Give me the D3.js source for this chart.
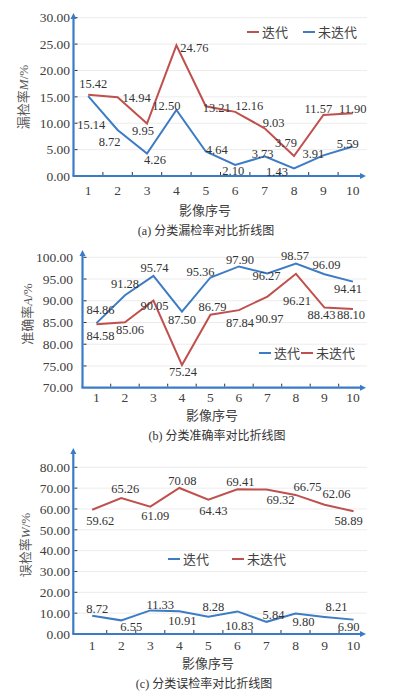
<!DOCTYPE html>
<html>
<head>
<meta charset="utf-8">
<script src="https://cdn.jsdelivr.net/npm/d3@7"></script>
<style>
  body { margin: 0; background: #fff; }
  svg text { font-family: "Liberation Serif", "Noto Sans CJK SC", serif; }
</style>
</head>
<body>
<svg id="chart" width="393" height="696"></svg>
<script>
// image numbers on the x axis
var images = ['1', '2', '3', '4', '5', '6', '7', '8', '9', '10'];

// (a) miss rate M/%
var missIter = [15.42, 14.94, 9.95, 24.76, 13.21, 12.16, 9.03, 3.79, 11.57, 11.90];
var missNoIter = [15.14, 8.72, 4.26, 12.50, 4.64, 2.10, 3.73, 1.43, 3.91, 5.59];
var missTicks = [0, 5, 10, 15, 20, 25, 30];

// (b) accuracy A/%
var accIter = [84.86, 91.28, 95.74, 87.50, 95.36, 97.90, 96.27, 98.57, 96.09, 94.41];
var accNoIter = [84.58, 85.06, 90.05, 75.24, 86.79, 87.84, 90.97, 96.21, 88.43, 88.10];
var accTicks = [70, 75, 80, 85, 90, 95, 100];

// (c) false detection rate W/%
var errIter = [8.72, 6.55, 11.33, 10.91, 8.28, 10.83, 5.84, 9.80, 8.21, 6.90];
var errNoIter = [59.62, 65.26, 61.09, 70.08, 64.43, 69.41, 69.32, 66.75, 62.06, 58.89];
var errTicks = [0, 10, 20, 30, 40, 50, 60, 70, 80];

// label nudges [dx, dy] per point, like the excel auto placement
var missIterOff = [[5,-11],[19,0],[-4,7],[18,2],[11,1],[14,-6],[9,-6],[-8,-13],[-5,-6],[0,-5]];
var missNoIterOff = [[3,29],[-8,12],[8,6],[-10,-4],[11,-2],[-2,6],[-2,-3],[-17,3],[-10,-2],[-5,-3]];
var accIterOff = [[4,-13],[0,-12],[1,-8],[0,8],[-10,-6],[1,-7],[-1,2],[-1,-8],[2,-10],[-5,7]];
var accNoIterOff = [[4,11],[5,7],[1,5],[1,7],[2,-8],[1,12],[2,22],[1,27],[-3,7],[-2,6]];
var errIterOff = [[5,-7],[10,6],[10,-6],[3,9],[5,-10],[2,14],[7,-7],[8,8],[12,-10],[-5,7]];
var errNoIterOff = [[8,11],[4,-9],[5,9],[3,-7],[5,11],[3,-8],[14,10],[12,-8],[12,-11],[-5,9]];

var red = '#c0504d',
    blue = '#3d7cc4',
    axisBlue = '#3a7bc8';

var svg = d3.select('#chart');

function lineChart(opt) {

    var g = svg.append('g');

    var x = d3.scaleBand()
        .domain(images)
        .range(opt.xRange);

    var y = d3.scaleLinear()
        .domain(opt.yDomain)
        .range(opt.yRange);

    // gridlines
    g.selectAll('.grid')
        .data(opt.ticks.slice(1))
        .enter().append('line')
        .attr('x1', opt.axisX)
        .attr('x2', 367)
        .attr('y1', function(d) { return y(d); })
        .attr('y2', function(d) { return y(d); })
        .attr('stroke', '#ececec')
        .attr('stroke-width', 1);

    // y tick labels + small ticks
    g.selectAll('.ytl')
        .data(opt.ticks)
        .enter().append('text')
        .attr('x', opt.labelX)
        .attr('y', function(d) { return y(d); })
        .attr('dy', '0.35em')
        .attr('text-anchor', 'end')
        .attr('font-size', 13.5)
        .attr('fill', '#404040')
        .text(function(d) { return d3.format('.2f')(d); });

    g.selectAll('.ytk')
        .data(opt.ticks.slice(1))
        .enter().append('line')
        .attr('x1', opt.axisX + 1)
        .attr('x2', opt.axisX + 4)
        .attr('y1', function(d) { return y(d); })
        .attr('y2', function(d) { return y(d); })
        .attr('stroke', '#333');

    // x ticks at band edges, pointing up
    var bottom = opt.yRange[0];
    g.selectAll('.xtk')
        .data(images.slice(1))
        .enter().append('line')
        .attr('x1', function(d) { return x(d); })
        .attr('x2', function(d) { return x(d); })
        .attr('y1', bottom - 1)
        .attr('y2', bottom - 4)
        .attr('stroke', '#333');

    g.selectAll('.xtl')
        .data(images)
        .enter().append('text')
        .attr('x', function(d) { return x(d) + x.bandwidth() / 2; })
        .attr('y', bottom + opt.xLabelGap)
        .attr('dy', '0.35em')
        .attr('text-anchor', 'middle')
        .attr('font-size', 13.5)
        .attr('fill', '#404040')
        .text(function(d) { return d; });

    // axes with arrow heads
    g.append('line')
        .attr('x1', opt.axisX).attr('x2', opt.axisX)
        .attr('y1', bottom).attr('y2', opt.arrowTop + 5)
        .attr('stroke', axisBlue).attr('stroke-width', 2.2);
    g.append('path')
        .attr('d', 'M' + (opt.axisX - 3) + ',' + (opt.arrowTop + 6) + 'L' + opt.axisX + ',' + opt.arrowTop + 'L' + (opt.axisX + 3) + ',' + (opt.arrowTop + 6) + 'Z')
        .attr('fill', axisBlue);
    g.append('line')
        .attr('x1', opt.axisX - 1).attr('x2', 361)
        .attr('y1', bottom).attr('y2', bottom)
        .attr('stroke', axisBlue).attr('stroke-width', 2.2);
    g.append('path')
        .attr('d', 'M360,' + (bottom - 3) + 'L366,' + bottom + 'L360,' + (bottom + 3) + 'Z')
        .attr('fill', axisBlue);

    var line = d3.line()
        .x(function(d, i) { return x(images[i]) + x.bandwidth() / 2; })
        .y(function(d) { return y(d); });

    opt.series.forEach(function(s) {
        g.append('path')
            .datum(s.values)
            .attr('d', line)
            .attr('fill', 'none')
            .attr('stroke', s.color)
            .attr('stroke-width', 2)
            .attr('stroke-linejoin', 'miter');
    });

    opt.series.forEach(function(s) {
        g.selectAll(null)
            .data(s.values)
            .enter().append('text')
            .attr('x', function(d, i) { return x(images[i]) + x.bandwidth() / 2 + s.offsets[i][0]; })
            .attr('y', function(d, i) { return y(d) + s.offsets[i][1]; })
            .attr('dy', '0.35em')
            .attr('text-anchor', 'middle')
            .attr('font-size', 12.5)
            .attr('fill', '#333')
            .text(function(d) { return d3.format('.2f')(d); });
    });

    // legend
    opt.legend.forEach(function(l) {
        g.append('line')
            .attr('x1', l.x).attr('x2', l.x + 12)
            .attr('y1', opt.legendY).attr('y2', opt.legendY)
            .attr('stroke', l.color).attr('stroke-width', 2);
        g.append('text')
            .attr('x', l.x + 15)
            .attr('y', opt.legendY)
            .attr('dy', '0.35em')
            .attr('font-size', 13)
            .attr('fill', '#404040')
            .text(l.name);
    });

    // titles
    g.append('text')
        .attr('transform', 'translate(' + opt.yTitle[0] + ',' + opt.yTitle[1] + ') rotate(-90)')
        .attr('text-anchor', 'middle')
        .attr('dy', '0.35em')
        .attr('font-size', 13)
        .attr('fill', '#595959')
        .html(opt.yTitleHtml);

    g.append('text')
        .attr('x', opt.xTitle[0])
        .attr('y', opt.xTitle[1])
        .attr('text-anchor', 'middle')
        .attr('dy', '0.35em')
        .attr('font-size', 13)
        .attr('fill', '#404040')
        .text('影像序号');

    g.append('text')
        .attr('x', opt.caption[0])
        .attr('y', opt.caption[1])
        .attr('text-anchor', 'middle')
        .attr('dy', '0.35em')
        .attr('font-size', 12)
        .attr('fill', '#333')
        .text(opt.captionText);
}

lineChart({
    xRange: [73.5, 367.5], yDomain: [0, 30], yRange: [176, 17.7],
    axisX: 73.5, labelX: 70, arrowTop: 13, ticks: missTicks, xLabelGap: 14,
    series: [
        { values: missIter, color: red, offsets: missIterOff },
        { values: missNoIter, color: blue, offsets: missNoIterOff }
    ],
    legendY: 32,
    legend: [ { x: 247, color: red, name: '迭代' }, { x: 303, color: blue, name: '未迭代' } ],
    yTitle: [23, 97], yTitleHtml: '漏检率<tspan font-style="italic">M</tspan>/%',
    xTitle: [205, 210], caption: [206, 231], captionText: '(a) 分类漏检率对比折线图'
});

lineChart({
    xRange: [82.2, 367.2], yDomain: [70, 100], yRange: [387.7, 257.3],
    axisX: 82.5, labelX: 73, arrowTop: 250, ticks: accTicks, xLabelGap: 10,
    series: [
        { values: accIter, color: blue, offsets: accIterOff },
        { values: accNoIter, color: red, offsets: accNoIterOff }
    ],
    legendY: 353,
    legend: [ { x: 259, color: blue, name: '迭代' }, { x: 301, color: red, name: '未迭代' } ],
    yTitle: [27, 314], yTitleHtml: '准确率<tspan font-style="italic">A</tspan>/%',
    xTitle: [212, 415], caption: [217, 436], captionText: '(b) 分类准确率对比折线图'
});

lineChart({
    xRange: [77.7, 368.1], yDomain: [0, 80], yRange: [634, 467.3],
    axisX: 73.3, labelX: 70, arrowTop: 448, ticks: errTicks, xLabelGap: 11,
    series: [
        { values: errIter, color: blue, offsets: errIterOff },
        { values: errNoIter, color: red, offsets: errNoIterOff }
    ],
    legendY: 559,
    legend: [ { x: 168, color: blue, name: '迭代' }, { x: 232, color: red, name: '未迭代' } ],
    yTitle: [25, 545], yTitleHtml: '误检率<tspan font-style="italic">W</tspan>/%',
    xTitle: [208, 663], caption: [204, 684], captionText: '(c) 分类误检率对比折线图'
});
</script>
</body>
</html>
